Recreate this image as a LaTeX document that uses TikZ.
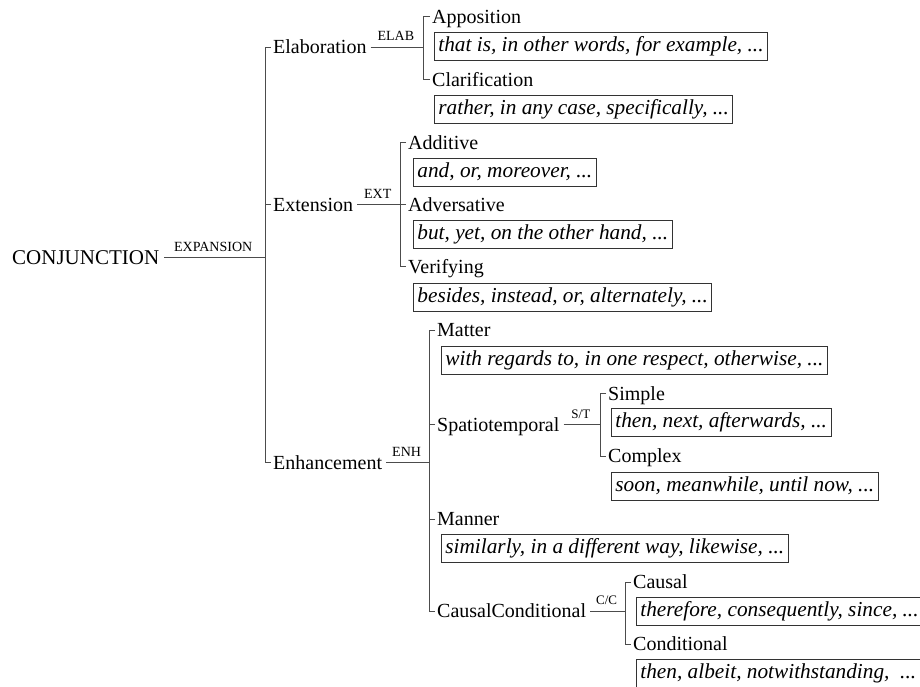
\documentclass[tikz,border=0pt]{standalone}
\usepackage{fontspec}
\setmainfont{Liberation Serif}
\begin{document}
\begin{tikzpicture}[x=1pt,y=-1pt,
  lbl/.style={anchor=west, inner xsep=2pt, inner ysep=0pt, font=\fontsize{20}{24}\selectfont, text height=16pt, text depth=2.8pt},
  ex/.style={anchor=west, draw=black!80, line width=0.8pt, inner xsep=4pt, inner ysep=0pt, minimum height=28pt, font=\fontsize{21.3}{24}\selectfont\itshape, text height=14.5pt, text depth=4.5pt},
  tr/.style={draw=black!70, line width=1pt},
  rel/.style={font=\fontsize{14}{16}\selectfont, above=4pt, inner sep=1.5pt},
  srel/.style={font=\fontsize{13}{15}\selectfont, above=4pt, inner sep=1.5pt}]
\useasboundingbox (0,0) rectangle (920,686);

% level 0
\node[lbl, font=\fontsize{21}{24}\selectfont] (conj) at (10,257.5) {CONJUNCTION};
\node[lbl] (elab) at (271,47) {Elaboration};
\node[lbl] (ext) at (271,204.5) {Extension};
\node[lbl] (enh) at (271,462.5) {Enhancement};
\coordinate (v0) at (265,257.5);
\draw[tr, shorten <=3pt] (conj.east) -- (v0) node[rel, midway] {EXPANSION};
\draw[tr] (elab.west) -- ++(-6,0) |- (enh.west);
\draw[tr] (ext.west) -- ++(-6,0);

% elaboration
\node[lbl] (appo) at (430,16.5) {Apposition};
\node[ex] (appoE) at (434,46) {that is, in other words, for example, ...};
\node[lbl] (clar) at (430,79.5) {Clarification};
\node[ex] (clarE) at (434,109) {rather, in any case, specifically, ...};
\coordinate (velab) at (423,47);
\draw[tr, shorten <=2pt] (elab.east) -- (velab) node[rel, midway] {ELAB};
\draw[tr] (appo.west) -- ++(-7,0) |- (clar.west);

% extension
\node[lbl] (addi) at (406,142.5) {Additive};
\node[ex] (addiE) at (413,172) {and, or, moreover, ...};
\node[lbl] (adve) at (406,204.5) {Adversative};
\node[ex] (adveE) at (413,234) {but, yet, on the other hand, ...};
\node[lbl] (veri) at (406,266.5) {Verifying};
\node[ex] (veriE) at (413,297) {besides, instead, or, alternately, ...};
\coordinate (vext) at (400,204.5);
\draw[tr, shorten <=2pt] (ext.east) -- (vext) node[rel, midway] {EXT};
\draw[tr] (addi.west) -- ++(-6,0) |- (veri.west);
\draw[tr] (adve.west) -- ++(-6,0);

% enhancement
\node[lbl] (matt) at (435,330) {Matter};
\node[ex] (mattE) at (441,360) {with regards to, in one respect, otherwise, ...};
\node[lbl] (spat) at (435,424.5) {Spatiotemporal};
\node[lbl] (mann) at (435,519) {Manner};
\node[ex] (mannE) at (441,548) {similarly, in a different way, likewise, ...};
\node[lbl] (caco) at (435,611) {CausalConditional};
\coordinate (venh) at (429,462.5);
\draw[tr, shorten <=2pt] (enh.east) -- (venh) node[rel, midway] {ENH};
\draw[tr] (matt.west) -- ++(-6,0) |- (caco.west);
\draw[tr] (spat.west) -- ++(-6,0);
\draw[tr] (mann.west) -- ++(-6,0);

% spatiotemporal
\node[lbl] (simp) at (606,393.5) {Simple};
\node[ex] (simpE) at (611,422) {then, next, afterwards, ...};
\node[lbl] (comp) at (606,456) {Complex};
\node[ex] (compE) at (611,486) {soon, meanwhile, until now, ...};
\coordinate (vst) at (600,424.5);
\draw[tr, shorten <=2pt] (spat.east) -- (vst) node[srel, midway] {S/T};
\draw[tr] (simp.west) -- ++(-6,0) |- (comp.west);

% causal conditional
\node[lbl] (caus) at (631,582) {Causal};
\node[ex] (causE) at (636,611) {therefore, consequently, since, ...};
\node[lbl] (cond) at (631,644) {Conditional};
\node[ex] (condE) at (636,673) {then, albeit, notwithstanding, \ ...};
\coordinate (vcc) at (625,611);
\draw[tr, shorten <=2pt] (caco.east) -- (vcc) node[srel, midway] {C/C};
\draw[tr] (caus.west) -- ++(-6,0) |- (cond.west);
\end{tikzpicture}
\end{document}
